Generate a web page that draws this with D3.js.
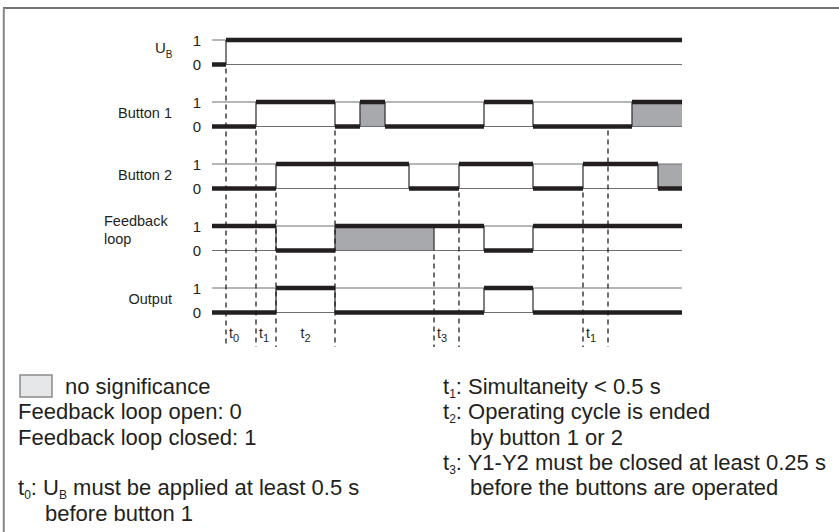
<!DOCTYPE html>
<html lang="en">
<head>
<meta charset="UTF-8">
<title>Two-hand control timing diagram</title>
<script src="https://d3js.org/d3.v7.min.js"></script>
<style>
  body { margin: 0; background: #fff; }
  svg text { font-family: "Liberation Sans", Arial, Helvetica, sans-serif; fill: #231f20; }
</style>
</head>
<body>
<svg width="839" height="532"></svg>
<script>
// time axis in arbitrary units, change points [time, level]; "x1"/"x0" = no significance
const tEnd = 47;
const signals = ["UB", "Button 1", "Button 2", "Feedback loop", "Output"];
const ubSteps       = [[0, 0], [1.4, 1]];
const button1Steps  = [[0, 0], [4.4, 1], [12.3, 0], [14.8, "x1"], [17.3, 0], [27.2, 1], [32.1, 0], [42, "x1"]];
const button2Steps  = [[0, 0], [6.4, 1], [19.7, 0], [24.7, 1], [32.1, 0], [37.1, 1], [44.6, "x0"]];
const feedbackSteps = [[0, 1], [6.4, 0], [12.3, "x1"], [22.2, 1], [27.2, 0], [32.1, 1]];
const outputSteps   = [[0, 0], [6.4, 1], [12.3, 0], [27.2, 1], [32.1, 0]];
const allSteps = [ubSteps, button1Steps, button2Steps, feedbackSteps, outputSteps];

// dashed time markers: time and the signal they drop from
const markers = [[1.4, "UB"], [4.4, "Button 1"], [6.4, "Button 2"], [12.3, "Button 1"],
                 [22.2, "Feedback loop"], [24.7, "Button 2"], [37.1, "Button 2"], [39.6, "Button 1"]];
// interval labels between markers
const intervals = [[1.4, 4.4, "0"], [4.4, 6.4, "1"], [6.4, 12.3, "2"], [22.2, 24.7, "3"], [37.1, 39.6, "1"]];

const notesLeft = [
  [["no significance"]],
  [["Feedback loop open: 0"]],
  [["Feedback loop closed: 1"]],
  [],
  [["t"], ["0", 1], [": U"], ["B", 1], [" must be applied at least 0.5 s"]],
  [["before button 1"]]
];
const notesRight = [
  [["t"], ["1", 1], [": Simultaneity < 0.5 s"]],
  [["t"], ["2", 1], [": Operating cycle is ended"]],
  [["by button 1 or 2"]],
  [["t"], ["3", 1], [": Y1-Y2 must be closed at least 0.25 s"]],
  [["before the buttons are operated"]]
];

const svg = d3.select("svg");
const ink = "#231f20", grey = "#a7a9ac";

// frame
svg.append("line").attr("x1", 3).attr("x2", 839).attr("y1", 8).attr("y2", 8)
  .attr("stroke", "#444").attr("stroke-width", 1.5);
svg.append("line").attr("x1", 3.8).attr("x2", 3.8).attr("y1", 8).attr("y2", 532)
  .attr("stroke", "#888").attr("stroke-width", 2);

const x = d3.scaleLinear().domain([0, tEnd]).range([212, 682]);
const row = d3.scalePoint().domain(signals).range([40, 288]);
const amp = 24.5;
const yLevel = (s, lvl) => row(s) + (lvl === 1 || lvl === "x1" ? 0 : amp);

const g = svg.append("g");

signals.forEach((s, i) => {
  const steps = allSteps[i];
  const segs = steps.map((d, j) => ({ t0: d[0], t1: j + 1 < steps.length ? steps[j + 1][0] : tEnd, lvl: d[1] }));

  // grey boxes
  g.selectAll(null).data(segs.filter(d => typeof d.lvl === "string")).join("rect")
    .attr("x", d => x(d.t0)).attr("width", d => x(d.t1) - x(d.t0))
    .attr("y", row(s)).attr("height", amp).attr("fill", grey);

  // thin reference lines at 1 and 0
  [1, 0].forEach(l => {
    g.append("line").attr("x1", x(0)).attr("x2", x(tEnd))
      .attr("y1", yLevel(s, l)).attr("y2", yLevel(s, l))
      .attr("stroke", "#6d6e71").attr("stroke-width", 1.2);
  });

  // transitions
  g.selectAll(null).data(segs.filter(d => d.t0 > 0)).join("line")
    .attr("x1", d => x(d.t0)).attr("x2", d => x(d.t0))
    .attr("y1", row(s)).attr("y2", row(s) + amp)
    .attr("stroke", "#3a3a3a").attr("stroke-width", 1.3);

  // thick state lines
  g.selectAll(null).data(segs).join("line")
    .attr("x1", d => x(d.t0)).attr("x2", d => x(d.t1))
    .attr("y1", d => yLevel(s, d.lvl)).attr("y2", d => yLevel(s, d.lvl))
    .attr("stroke", ink).attr("stroke-width", 4.5);

  // level ticks
  [["1", 1], ["0", 0]].forEach(([txt, l]) => {
    g.append("text").attr("x", 201).attr("y", yLevel(s, l) + 5.5)
      .attr("text-anchor", "end").attr("font-size", 15).text(txt);
  });
});

// signal names
const yMid = s => row(s) + amp / 2;
const ub = svg.append("text").attr("x", 155).attr("y", row("UB") + 13).attr("font-size", 15);
ub.append("tspan").text("U");
ub.append("tspan").attr("font-size", 10).attr("dy", 5).text("B");
["Button 1", "Button 2", "Output"].forEach(s => {
  svg.append("text").attr("x", 172).attr("y", yMid(s) + 4).attr("text-anchor", "end")
    .attr("font-size", 14.5).text(s);
});
svg.append("text").attr("x", 104).attr("y", yMid("Feedback loop") - 12).attr("font-size", 14.5).text("Feedback");
svg.append("text").attr("x", 104).attr("y", yMid("Feedback loop") + 6).attr("font-size", 14.5).text("loop");

// dashed markers
svg.selectAll(null).data(markers).join("line")
  .attr("x1", d => x(d[0])).attr("x2", d => x(d[0]))
  .attr("y1", d => row(d[1]) + amp + 4).attr("y2", 347)
  .attr("stroke", ink).attr("stroke-width", 1.3).attr("stroke-dasharray", "5,4");

// interval labels
intervals.forEach(([a, b, n]) => {
  const wide = x(b) - x(a) > 40;
  const t = svg.append("text").attr("y", 338).attr("font-size", 14)
    .attr("x", wide ? (x(a) + x(b)) / 2 - 5 : x(a) + 3);
  t.append("tspan").text("t");
  t.append("tspan").attr("font-size", 11).attr("dy", 4).text(n);
});

// notes
function writeLines(lines, x0, y0, indentFirst) {
  lines.forEach((parts, i) => {
    if (!parts.length) return;
    const cont = parts.length === 1 && i > 0 && lines[i - 1].length > 1;
    let xx = x0 + (cont ? 27 : 0);
    if (i === 0 && indentFirst) xx = x0 + indentFirst;
    const t = svg.append("text").attr("x", xx).attr("y", y0 + i * 25.3).attr("font-size", 22);
    let lowered = false;
    parts.forEach(([txt, sub]) => {
      const ts = t.append("tspan").attr("font-size", sub ? 12 : 22).text(txt);
      if (sub) { ts.attr("dy", 4); lowered = true; }
      else if (lowered) { ts.attr("dy", -4); lowered = false; }
    });
  });
}
svg.append("rect").attr("x", 20).attr("y", 375).attr("width", 32).attr("height", 22)
  .attr("fill", "#e6e7e8").attr("stroke", "#8a8a8a").attr("stroke-width", 1.5);
writeLines(notesLeft, 18, 394, 47);
writeLines(notesRight, 443, 394, 0);
</script>
</body>
</html>
